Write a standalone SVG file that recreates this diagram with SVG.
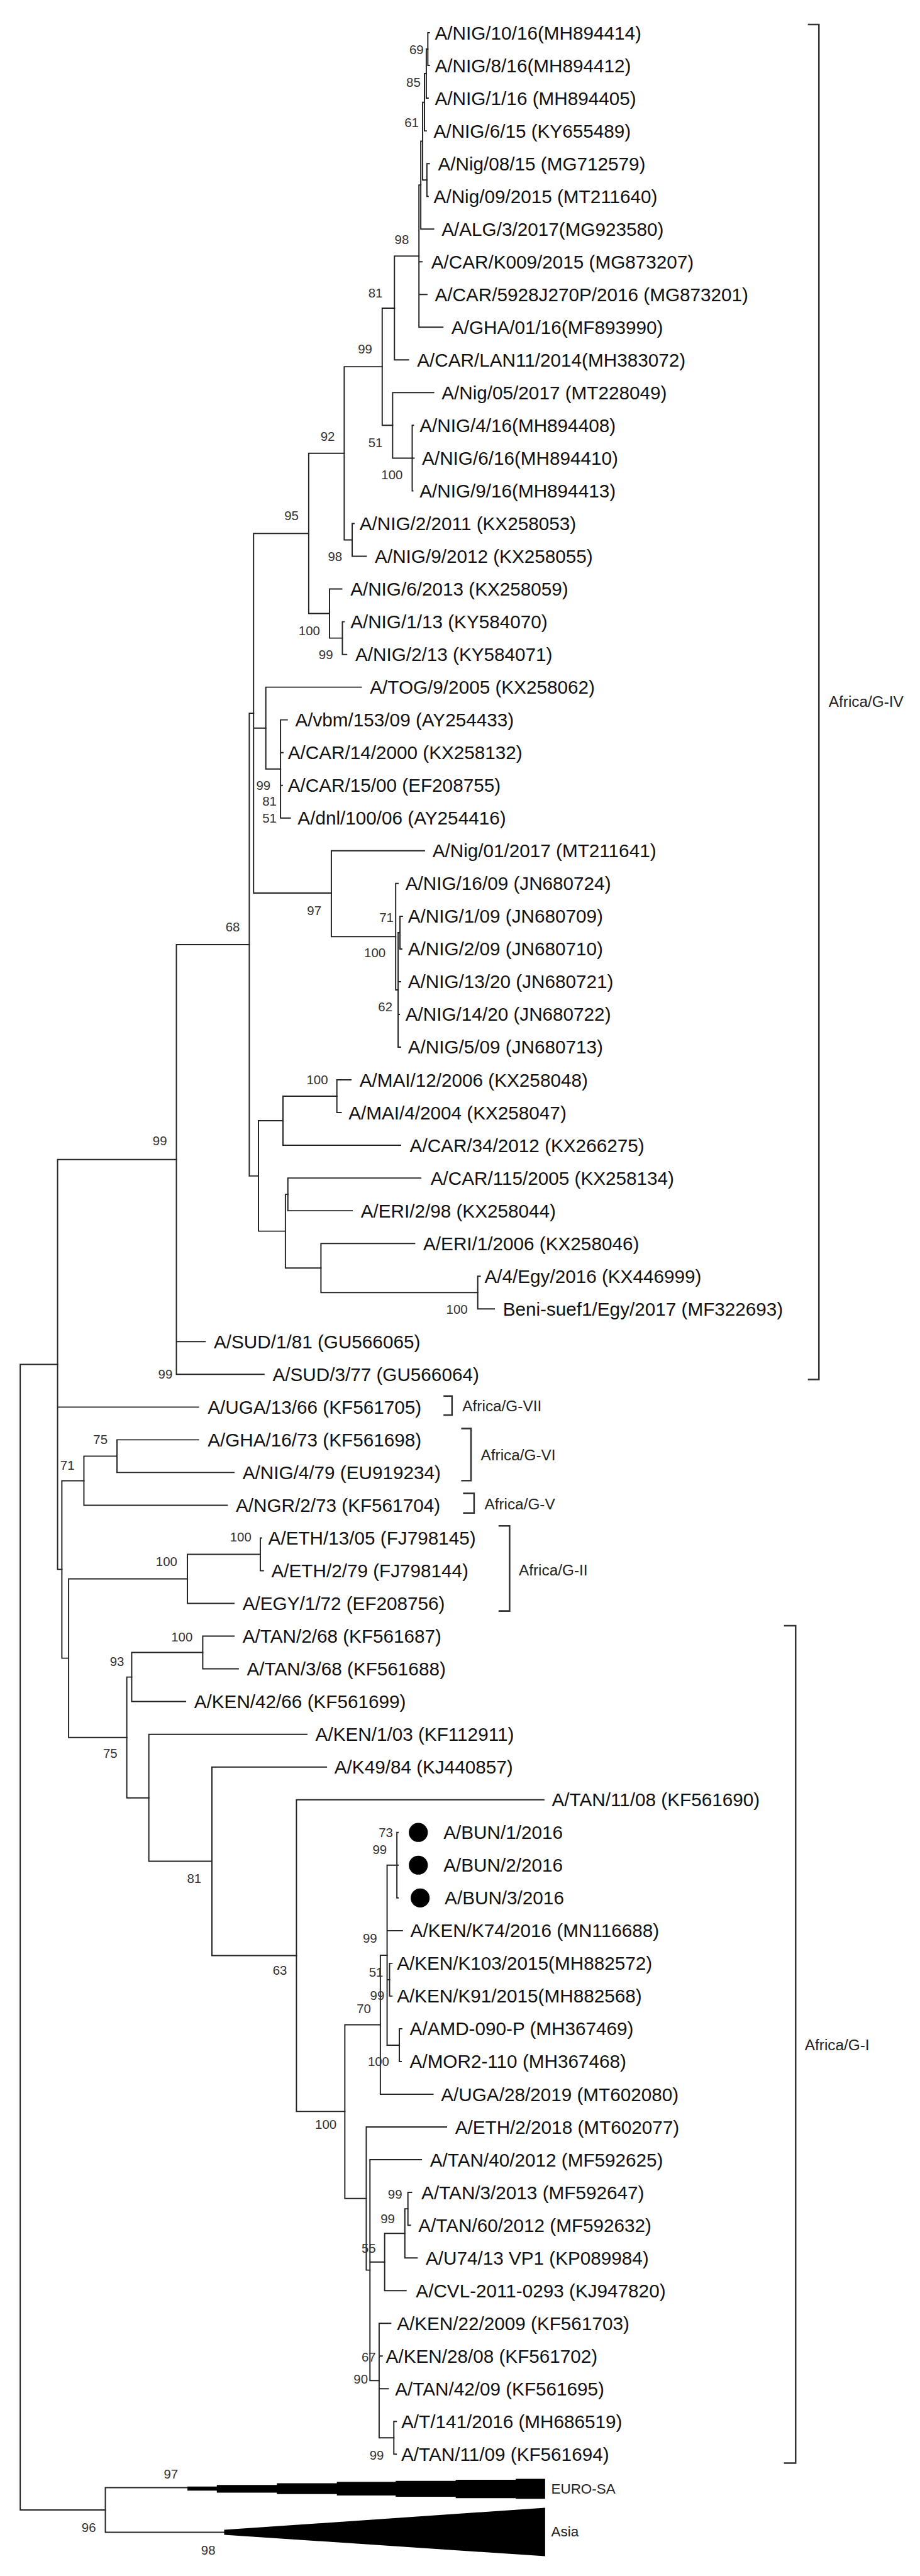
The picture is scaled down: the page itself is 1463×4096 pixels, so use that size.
<svg xmlns="http://www.w3.org/2000/svg" width="1463" height="4096" viewBox="0 0 1463 4096">
<style>
.br{fill:none;stroke:#222;stroke-width:2;stroke-linecap:square}
.bk{fill:none;stroke:#333;stroke-width:2.6}
.leaf{font-family:"Liberation Sans",Arial,sans-serif;font-size:30.5px;fill:#111;dominant-baseline:central}
.bs{font-family:"Liberation Sans",Arial,sans-serif;font-size:21px;fill:#333;text-anchor:middle;dominant-baseline:central}
.grp{font-family:"Liberation Sans",Arial,sans-serif;font-size:25px;fill:#222;dominant-baseline:central}
</style>
<rect x="0" y="0" width="1463" height="4096" fill="#fff"/>
<g transform="scale(0.974)">
<g id="connectors">
<path class="br" d="M33 2227.5V4097.5M33 2227.5H94M33 4097.5H172"/>
<path class="br" d="M172 4061V4134M172 4061H306M172 4134H366"/>
<path class="br" d="M94 1892.9V2562M94 1892.9H288M94 2297.1H324M94 2562H101"/>
<path class="br" d="M288 1542.1V2243.6M288 1542.1H407M288 2190.2H335M288 2243.6H431"/>
<path class="br" d="M407 1164.4V1919.8M407 1164.4H414M407 1919.8H422"/>
<path class="br" d="M414 870.8V1458M414 870.8H504M414 1188.6H434M414 1458H541"/>
<path class="br" d="M504 740V1001.6M504 740H562M504 1001.6H538"/>
<path class="br" d="M562 598.7V881.4M562 598.7H624M562 881.4H575"/>
<path class="br" d="M624 503V694.4M624 503H644M624 694.4H641"/>
<path class="br" d="M644 418V587.6M644 418H684M644 587.6H667"/>
<path class="br" d="M684 302V534.2M684 302H687M684 427.3H689M684 480.8H697M684 534.2H723"/>
<path class="br" d="M687 230.4V373.9M687 230.4H690M687 373.9H708"/>
<path class="br" d="M690 167V293.8M690 167H693M690 293.8H697"/>
<path class="br" d="M693 120.2V213.7M693 120.2H696M693 213.7H696"/>
<path class="br" d="M696 80.1V160.2M696 80.1H698.5M696 160.2H699"/>
<path class="br" d="M698.5 53.4V106.8M698.5 53.4H701M698.5 106.8H701"/>
<path class="br" d="M697 267.1V320.5M697 267.1H701M697 320.5H699"/>
<path class="br" d="M641 641V747.9M641 641H708M641 747.9H673"/>
<path class="br" d="M673 694.4V801.3M673 694.4H675M673 747.9H676M673 801.3H674"/>
<path class="br" d="M575 854.7V908.1M575 854.7H578M575 908.1H598"/>
<path class="br" d="M538 961.6V1041.7M538 961.6H558M538 1041.7H559"/>
<path class="br" d="M559 1015V1068.4M559 1015H562M559 1068.4H566"/>
<path class="br" d="M434 1121.8V1255.4M434 1121.8H590M434 1255.4H458"/>
<path class="br" d="M458 1175.2V1335.5M458 1175.2H469M458 1228.7H462M458 1282.1H461M458 1335.5H474"/>
<path class="br" d="M541 1388.9V1529M541 1388.9H693M541 1529H646"/>
<path class="br" d="M646 1442.3V1616M646 1442.3H650M646 1616H650"/>
<path class="br" d="M650 1522.5V1709.4M650 1522.5H653M650 1602.6H654M650 1656H652M650 1709.4H654"/>
<path class="br" d="M653 1495.8V1549.2M653 1495.8H657M653 1549.2H656"/>
<path class="br" d="M422 1829.6V2009.9M422 1829.6H462M422 2009.9H466"/>
<path class="br" d="M462 1789.6V1869.7M462 1789.6H550M462 1869.7H654"/>
<path class="br" d="M550 1762.9V1816.3M550 1762.9H573M550 1816.3H557"/>
<path class="br" d="M466 1949.8V2070M466 1949.8H470M466 2070H524"/>
<path class="br" d="M470 1923.1V1976.5M470 1923.1H687M470 1976.5H575"/>
<path class="br" d="M524 2030V2110.1M524 2030H677M524 2110.1H780"/>
<path class="br" d="M780 2083.4V2136.8M780 2083.4H784M780 2136.8H807"/>
<path class="br" d="M101 2417.3V2707M101 2417.3H137M101 2707H112"/>
<path class="br" d="M137 2377.2V2457.3M137 2377.2H191M137 2457.3H371"/>
<path class="br" d="M191 2350.5V2403.9M191 2350.5H324M191 2403.9H382"/>
<path class="br" d="M112 2577.5V2836.4M112 2577.5H306M112 2836.4H207"/>
<path class="br" d="M306 2537.5V2617.6M306 2537.5H425M306 2617.6H382"/>
<path class="br" d="M425 2510.7V2564.2M425 2510.7H427M425 2564.2H430"/>
<path class="br" d="M207 2737.8V2935M207 2737.8H215M207 2935H243"/>
<path class="br" d="M215 2697.7V2777.8M215 2697.7H331M215 2777.8H303"/>
<path class="br" d="M331 2671V2724.4M331 2671H382M331 2724.4H389"/>
<path class="br" d="M243 2831.3V3038.6M243 2831.3H501M243 3038.6H346"/>
<path class="br" d="M346 2884.7V3192.6M346 2884.7H533M346 3192.6H484"/>
<path class="br" d="M484 2938.1V3447M484 2938.1H888M484 3447H563"/>
<path class="br" d="M563 3305.4V3589M563 3305.4H621M563 3589H598"/>
<path class="br" d="M621 3191.9V3418.9M621 3191.9H632M621 3418.9H707"/>
<path class="br" d="M632 3045V3338.8M632 3045H648M632 3151.8H657M632 3231.9H636M632 3338.8H652"/>
<path class="br" d="M648 2991.5V3098.4M648 2991.5H650M648 3044.9H650M648 3098.4H650"/>
<path class="br" d="M636 3205.2V3258.6M636 3205.2H640M636 3258.6H640"/>
<path class="br" d="M652 3312V3365.5M652 3312H656M652 3365.5H655"/>
<path class="br" d="M598 3472.3V3706M598 3472.3H729M598 3706H604"/>
<path class="br" d="M604 3525.7V3886.3M604 3525.7H688M604 3692.7H628M604 3886.3H619"/>
<path class="br" d="M628 3646V3739.4M628 3646H661M628 3739.4H663"/>
<path class="br" d="M661 3605.9V3686M661 3605.9H666M661 3686H681"/>
<path class="br" d="M666 3579.1V3632.6M666 3579.1H672M666 3632.6H670"/>
<path class="br" d="M619 3792.8V3979.8M619 3792.8H638M619 3846.2H624M619 3899.7H634M619 3979.8H643"/>
<path class="br" d="M643 3953.1V4006.5M643 3953.1H647M643 4006.5H647"/>
</g>
<g id="collapsed">
<polygon fill="#000" points="306,4059.3 354,4059.3 354,4056.7 452,4056.7 452,4054 550,4054 550,4051.7 646,4051.7 646,4050 744,4050 744,4048.3 842,4048.3 842,4046.7 890,4046.7 890,4079.3 842,4079.3 842,4078.3 744,4078.3 744,4076 646,4076 646,4074 550,4074 550,4071.7 452,4071.7 452,4069.3 354,4069.3 354,4066 306,4066"/>
<polygon fill="#000" points="366,4130 890,4094 890,4173 366,4138"/>
<text class="grp" x="900" y="4063" style="font-size:23px">EURO-SA</text>
<text class="grp" x="900" y="4133" style="font-size:23px">Asia</text>
</g>
<g id="leaves">
<g id="n1"><text class="leaf" x="710" y="53.4">A/NIG/10/16(MH894414)</text></g>
<g id="n2"><text class="leaf" x="710" y="106.8">A/NIG/8/16(MH894412)</text></g>
<g id="n3"><text class="leaf" x="710" y="160.2">A/NIG/1/16 (MH894405)</text></g>
<g id="n4"><text class="leaf" x="708" y="213.7">A/NIG/6/15 (KY655489)</text></g>
<g id="n5"><text class="leaf" x="715" y="267.1">A/Nig/08/15 (MG712579)</text></g>
<g id="n6"><text class="leaf" x="708" y="320.5">A/Nig/09/2015 (MT211640)</text></g>
<g id="n7"><text class="leaf" x="721" y="373.9">A/ALG/3/2017(MG923580)</text></g>
<g id="n8"><text class="leaf" x="704" y="427.3">A/CAR/K009/2015 (MG873207)</text></g>
<g id="n9"><text class="leaf" x="710" y="480.8">A/CAR/5928J270P/2016 (MG873201)</text></g>
<g id="n10"><text class="leaf" x="737" y="534.2">A/GHA/01/16(MF893990)</text></g>
<g id="n11"><text class="leaf" x="681" y="587.6">A/CAR/LAN11/2014(MH383072)</text></g>
<g id="n12"><text class="leaf" x="721" y="641">A/Nig/05/2017 (MT228049)</text></g>
<g id="n13"><text class="leaf" x="685" y="694.4">A/NIG/4/16(MH894408)</text></g>
<g id="n14"><text class="leaf" x="689" y="747.9">A/NIG/6/16(MH894410)</text></g>
<g id="n15"><text class="leaf" x="685" y="801.3">A/NIG/9/16(MH894413)</text></g>
<g id="n16"><text class="leaf" x="587" y="854.7">A/NIG/2/2011 (KX258053)</text></g>
<g id="n17"><text class="leaf" x="612" y="908.1">A/NIG/9/2012 (KX258055)</text></g>
<g id="n18"><text class="leaf" x="572" y="961.6">A/NIG/6/2013 (KX258059)</text></g>
<g id="n19"><text class="leaf" x="572" y="1015">A/NIG/1/13 (KY584070)</text></g>
<g id="n20"><text class="leaf" x="580" y="1068.4">A/NIG/2/13 (KY584071)</text></g>
<g id="n21"><text class="leaf" x="604" y="1121.8">A/TOG/9/2005 (KX258062)</text></g>
<g id="n22"><text class="leaf" x="482" y="1175.2">A/vbm/153/09 (AY254433)</text></g>
<g id="n23"><text class="leaf" x="470" y="1228.7">A/CAR/14/2000 (KX258132)</text></g>
<g id="n24"><text class="leaf" x="470" y="1282.1">A/CAR/15/00 (EF208755)</text></g>
<g id="n25"><text class="leaf" x="486" y="1335.5">A/dnl/100/06 (AY254416)</text></g>
<g id="n26"><text class="leaf" x="706" y="1388.9">A/Nig/01/2017 (MT211641)</text></g>
<g id="n27"><text class="leaf" x="662" y="1442.3">A/NIG/16/09 (JN680724)</text></g>
<g id="n28"><text class="leaf" x="666" y="1495.8">A/NIG/1/09 (JN680709)</text></g>
<g id="n29"><text class="leaf" x="666" y="1549.2">A/NIG/2/09 (JN680710)</text></g>
<g id="n30"><text class="leaf" x="666" y="1602.6">A/NIG/13/20 (JN680721)</text></g>
<g id="n31"><text class="leaf" x="662" y="1656">A/NIG/14/20 (JN680722)</text></g>
<g id="n32"><text class="leaf" x="666" y="1709.4">A/NIG/5/09 (JN680713)</text></g>
<g id="n33"><text class="leaf" x="587" y="1762.9">A/MAI/12/2006 (KX258048)</text></g>
<g id="n34"><text class="leaf" x="569" y="1816.3">A/MAI/4/2004 (KX258047)</text></g>
<g id="n35"><text class="leaf" x="669" y="1869.7">A/CAR/34/2012 (KX266275)</text></g>
<g id="n36"><text class="leaf" x="703" y="1923.1">A/CAR/115/2005 (KX258134)</text></g>
<g id="n37"><text class="leaf" x="589" y="1976.5">A/ERI/2/98 (KX258044)</text></g>
<g id="n38"><text class="leaf" x="691" y="2030">A/ERI/1/2006 (KX258046)</text></g>
<g id="n39"><text class="leaf" x="791" y="2083.4">A/4/Egy/2016 (KX446999)</text></g>
<g id="n40"><text class="leaf" x="821" y="2136.8">Beni-suef1/Egy/2017 (MF322693)</text></g>
<g id="n41"><text class="leaf" x="349" y="2190.2">A/SUD/1/81 (GU566065)</text></g>
<g id="n42"><text class="leaf" x="445" y="2243.6">A/SUD/3/77 (GU566064)</text></g>
<g id="n43"><text class="leaf" x="339" y="2297.1">A/UGA/13/66 (KF561705)</text></g>
<g id="n44"><text class="leaf" x="339" y="2350.5">A/GHA/16/73 (KF561698)</text></g>
<g id="n45"><text class="leaf" x="396" y="2403.9">A/NIG/4/79 (EU919234)</text></g>
<g id="n46"><text class="leaf" x="385" y="2457.3">A/NGR/2/73 (KF561704)</text></g>
<g id="n47"><text class="leaf" x="438" y="2510.7">A/ETH/13/05 (FJ798145)</text></g>
<g id="n48"><text class="leaf" x="443" y="2564.2">A/ETH/2/79 (FJ798144)</text></g>
<g id="n49"><text class="leaf" x="396" y="2617.6">A/EGY/1/72 (EF208756)</text></g>
<g id="n50"><text class="leaf" x="396" y="2671">A/TAN/2/68 (KF561687)</text></g>
<g id="n51"><text class="leaf" x="403" y="2724.4">A/TAN/3/68 (KF561688)</text></g>
<g id="n52"><text class="leaf" x="317" y="2777.8">A/KEN/42/66 (KF561699)</text></g>
<g id="n53"><text class="leaf" x="515" y="2831.3">A/KEN/1/03 (KF112911)</text></g>
<g id="n54"><text class="leaf" x="546" y="2884.7">A/K49/84 (KJ440857)</text></g>
<g id="n55"><text class="leaf" x="901" y="2938.1">A/TAN/11/08 (KF561690)</text></g>
<g id="n56"><circle cx="683" cy="2991.5" r="15.5" fill="#000"/><text class="leaf" x="724" y="2991.5">A/BUN/1/2016</text></g>
<g id="n57"><circle cx="683" cy="3044.9" r="15.5" fill="#000"/><text class="leaf" x="724" y="3044.9">A/BUN/2/2016</text></g>
<g id="n58"><circle cx="686" cy="3098.4" r="15.5" fill="#000"/><text class="leaf" x="726" y="3098.4">A/BUN/3/2016</text></g>
<g id="n59"><text class="leaf" x="670" y="3151.8">A/KEN/K74/2016 (MN116688)</text></g>
<g id="n60"><text class="leaf" x="648" y="3205.2">A/KEN/K103/2015(MH882572)</text></g>
<g id="n61"><text class="leaf" x="648" y="3258.6">A/KEN/K91/2015(MH882568)</text></g>
<g id="n62"><text class="leaf" x="669" y="3312">A/AMD-090-P (MH367469)</text></g>
<g id="n63"><text class="leaf" x="669" y="3365.5">A/MOR2-110 (MH367468)</text></g>
<g id="n64"><text class="leaf" x="720" y="3418.9">A/UGA/28/2019 (MT602080)</text></g>
<g id="n65"><text class="leaf" x="743" y="3472.3">A/ETH/2/2018 (MT602077)</text></g>
<g id="n66"><text class="leaf" x="702" y="3525.7">A/TAN/40/2012 (MF592625)</text></g>
<g id="n67"><text class="leaf" x="688" y="3579.1">A/TAN/3/2013 (MF592647)</text></g>
<g id="n68"><text class="leaf" x="683" y="3632.6">A/TAN/60/2012 (MF592632)</text></g>
<g id="n69"><text class="leaf" x="695" y="3686">A/U74/13 VP1 (KP089984)</text></g>
<g id="n70"><text class="leaf" x="679" y="3739.4">A/CVL-2011-0293 (KJ947820)</text></g>
<g id="n71"><text class="leaf" x="648" y="3792.8">A/KEN/22/2009 (KF561703)</text></g>
<g id="n72"><text class="leaf" x="630" y="3846.2">A/KEN/28/08 (KF561702)</text></g>
<g id="n73"><text class="leaf" x="645" y="3899.7">A/TAN/42/09 (KF561695)</text></g>
<g id="n74"><text class="leaf" x="655" y="3953.1">A/T/141/2016 (MH686519)</text></g>
<g id="n75"><text class="leaf" x="655" y="4006.5">A/TAN/11/09 (KF561694)</text></g>
</g>
<g id="bootstrap">
<text class="bs" x="680" y="81">69</text>
<text class="bs" x="675" y="134">85</text>
<text class="bs" x="672" y="200">61</text>
<text class="bs" x="656" y="391">98</text>
<text class="bs" x="613" y="478">81</text>
<text class="bs" x="596" y="569">99</text>
<text class="bs" x="535" y="712">92</text>
<text class="bs" x="613" y="722">51</text>
<text class="bs" x="640" y="775">100</text>
<text class="bs" x="476" y="841">95</text>
<text class="bs" x="547" y="908">98</text>
<text class="bs" x="505" y="1029">100</text>
<text class="bs" x="532" y="1068">99</text>
<text class="bs" x="430" y="1282">99</text>
<text class="bs" x="440" y="1308">81</text>
<text class="bs" x="440" y="1335">51</text>
<text class="bs" x="513" y="1486">97</text>
<text class="bs" x="631" y="1497">71</text>
<text class="bs" x="612" y="1555">100</text>
<text class="bs" x="629" y="1643">62</text>
<text class="bs" x="380" y="1513">68</text>
<text class="bs" x="518" y="1762">100</text>
<text class="bs" x="261" y="1862">99</text>
<text class="bs" x="746" y="2137">100</text>
<text class="bs" x="270" y="2243">99</text>
<text class="bs" x="164" y="2350">75</text>
<text class="bs" x="110" y="2392">71</text>
<text class="bs" x="393" y="2509">100</text>
<text class="bs" x="272" y="2549">100</text>
<text class="bs" x="297" y="2672">100</text>
<text class="bs" x="191" y="2712">93</text>
<text class="bs" x="180" y="2862">75</text>
<text class="bs" x="630" y="2991">73</text>
<text class="bs" x="620" y="3019">99</text>
<text class="bs" x="317" y="3066">81</text>
<text class="bs" x="604" y="3164">99</text>
<text class="bs" x="457" y="3216">63</text>
<text class="bs" x="614" y="3219">51</text>
<text class="bs" x="616" y="3257">99</text>
<text class="bs" x="594" y="3279">70</text>
<text class="bs" x="618" y="3365">100</text>
<text class="bs" x="532" y="3468">100</text>
<text class="bs" x="645" y="3582">99</text>
<text class="bs" x="633" y="3622">99</text>
<text class="bs" x="602" y="3670">55</text>
<text class="bs" x="602" y="3848">67</text>
<text class="bs" x="589" y="3883">90</text>
<text class="bs" x="615" y="4008">99</text>
<text class="bs" x="279" y="4038">97</text>
<text class="bs" x="145" y="4126">96</text>
<text class="bs" x="340" y="4163">98</text>
</g>
<g id="groups">
<g id="g-iv"><path class="bk" d="M1319 40H1337V2252H1319"/><text class="grp" x="1353" y="1145">Africa/G-IV</text></g>
<g id="g-vii"><path class="bk" d="M724 2279H738V2310H724"/><text class="grp" x="755" y="2295">Africa/G-VII</text></g>
<g id="g-vi"><path class="bk" d="M753 2332H769V2417H753"/><text class="grp" x="785" y="2375">Africa/G-VI</text></g>
<g id="g-v"><path class="bk" d="M756 2438H774V2470H756"/><text class="grp" x="791" y="2455">Africa/G-V</text></g>
<g id="g-ii"><path class="bk" d="M814 2491H832V2630H814"/><text class="grp" x="847" y="2563">Africa/G-II</text></g>
<g id="g-i"><path class="bk" d="M1280 2654H1299V4021H1280"/><text class="grp" x="1314" y="3338">Africa/G-I</text></g>
</g>
</g>
</svg>
